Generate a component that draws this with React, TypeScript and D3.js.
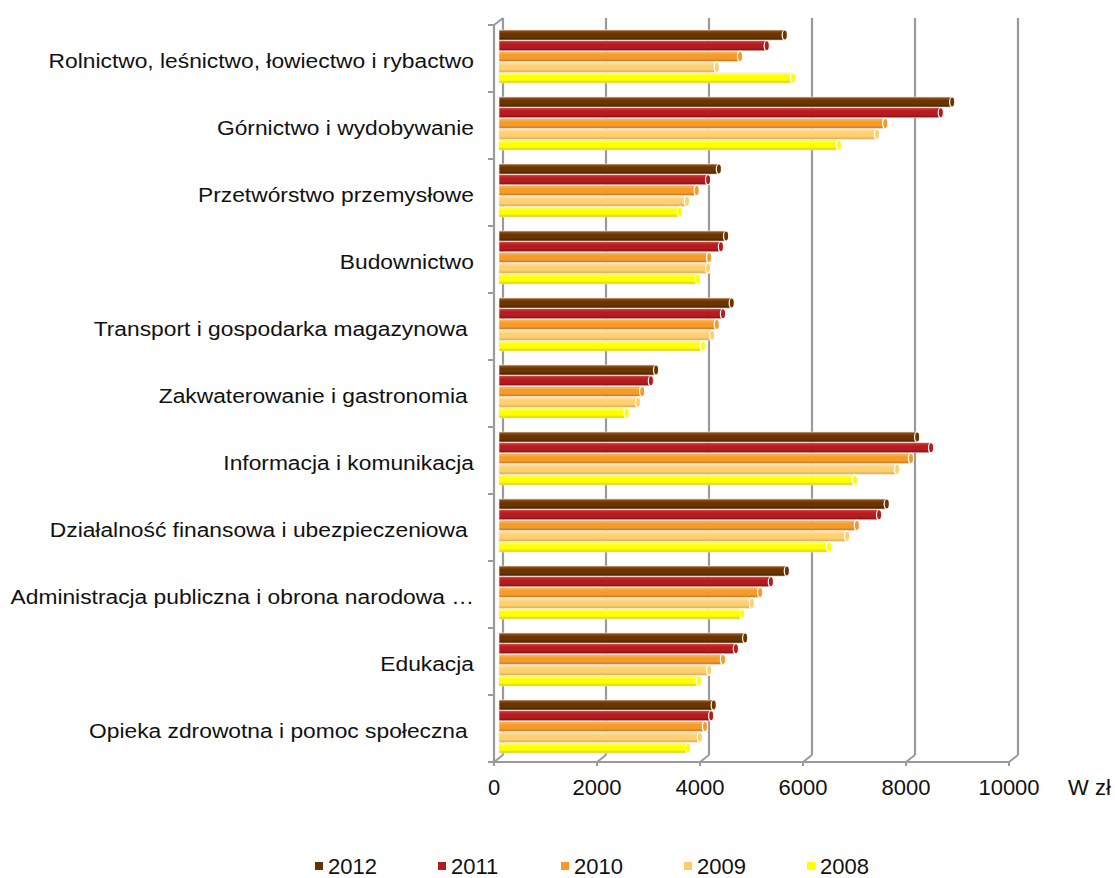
import React from "react";
import * as d3 from "d3";

const categories = [
  "Rolnictwo, leśnictwo, łowiectwo i rybactwo",
  "Górnictwo i wydobywanie",
  "Przetwórstwo przemysłowe",
  "Budownictwo",
  "Transport i gospodarka magazynowa ",
  "Zakwaterowanie i gastronomia ",
  "Informacja i komunikacja",
  "Działalność finansowa i ubezpieczeniowa ",
  "Administracja publiczna i obrona narodowa …",
  "Edukacja",
  "Opieka zdrowotna i pomoc społeczna ",
];

const years = ["2012", "2011", "2010", "2009", "2008"];

const v2012 = [5550, 8800, 4270, 4410, 4520, 3050, 8120, 7530, 5590, 4780, 4170];
const v2011 = [5200, 8580, 4060, 4310, 4350, 2950, 8390, 7380, 5280, 4600, 4120];
const v2010 = [4680, 7500, 3840, 4080, 4230, 2780, 8000, 6950, 5070, 4350, 4000];
const v2009 = [4230, 7340, 3650, 4060, 4140, 2700, 7730, 6760, 4910, 4080, 3900];
const v2008 = [5710, 6600, 3510, 3860, 3960, 2480, 6910, 6410, 4720, 3880, 3670];

const seriesValues = [v2012, v2011, v2010, v2009, v2008];

const xTicks = [0, 2000, 4000, 6000, 8000, 10000];
const unitLabel = "W zł";

const colors = [
  { light: "#9a5a1e", mid: "#6b3500", dark: "#3f1e00", legend: "#663300" },
  { light: "#d8373a", mid: "#b51c20", dark: "#7e0e12", legend: "#b01c20" },
  { light: "#fbbb5a", mid: "#f59b2c", dark: "#c8751a", legend: "#f39a2b" },
  { light: "#ffe4a0", mid: "#ffd070", dark: "#d8a84e", legend: "#ffcc66" },
  { light: "#ffff70", mid: "#ffff00", dark: "#cccc00", legend: "#ffff00" },
];

const W = 1115;
const H = 878;
const TOP = 25;
const BOTTOM = 762;
const DX = 9; // depth offset x
const DY = 7; // depth offset y

export default function App() {
  const xFront = d3.scaleLinear().domain([0, 10000]).range([494, 1009]);
  const xBar = d3.scaleLinear().domain([0, 10000]).range([499, 1014]);
  const xBack = d3.scaleLinear().domain([0, 10000]).range([494 + DX, 1009 + DX]);
  const y = d3.scaleBand<string>().domain(categories).range([TOP, BOTTOM]).paddingInner(0).paddingOuter(0);
  const bandH = y.bandwidth();
  const sub = d3.scaleBand<string>().domain(years).range([5, 58]).paddingInner(0.06);

  const font = "'Liberation Sans', Arial, sans-serif";
  const gridColor = "#9a9a9a";

  return (
    <svg
      width={W}
      height={H}
      style={{ position: "absolute", left: 0, top: 0, background: "#fff" }}
      fontFamily={font}
    >
      <defs>
        {colors.map((c, i) => (
          <linearGradient key={i} id={`g${i}`} x1="0" y1="0" x2="0" y2="1">
            <stop offset="0" stopColor={c.light} />
            <stop offset="0.35" stopColor={c.mid} />
            <stop offset="0.7" stopColor={c.mid} />
            <stop offset="1" stopColor={c.dark} />
          </linearGradient>
        ))}
      </defs>

      {/* back wall gridlines with floor diagonals */}
      {xTicks.map((t) => (
        <g key={`grid${t}`}>
          <line x1={xBack(t)} x2={xBack(t)} y1={TOP - DY} y2={BOTTOM - DY} stroke={gridColor} strokeWidth={2.2} />
          <line x1={xBack(t)} x2={xFront(t)} y1={BOTTOM - DY} y2={BOTTOM} stroke={gridColor} strokeWidth={2} />
          <line x1={xFront(t)} x2={xFront(t)} y1={BOTTOM} y2={BOTTOM + 4} stroke={gridColor} strokeWidth={2} />
        </g>
      ))}

      {/* floor front edge */}
      <line x1={xFront(0)} x2={xFront(10000)} y1={BOTTOM} y2={BOTTOM} stroke={gridColor} strokeWidth={2.2} />

      {/* left wall front edge + top diagonal */}
      <line x1={xFront(0)} x2={xFront(0)} y1={TOP} y2={BOTTOM} stroke={gridColor} strokeWidth={2.2} />
      <line x1={xFront(0)} x2={xBack(0)} y1={TOP} y2={TOP - DY} stroke={gridColor} strokeWidth={2} />

      {/* category ticks */}
      {[...categories.map((c) => y(c) as number), BOTTOM].map((yy, i) => (
        <line key={`ct${i}`} x1={xFront(0) - 6} x2={xFront(0)} y1={yy} y2={yy} stroke={gridColor} strokeWidth={2} />
      ))}

      {/* bars */}
      {categories.map((c, ci) => (
        <g key={`cat${ci}`} transform={`translate(0,${y(c)})`}>
          {years.map((yr, si) => {
            const v = seriesValues[si][ci];
            const by = sub(yr) as number;
            const bh = sub.bandwidth();
            const x0 = xBar(0);
            const x1 = xBar(v);
            return (
              <g key={yr}>
                <rect x={x0} y={by} width={x1 - x0} height={bh} fill={`url(#g${si})`} stroke="#f3e6dc" strokeWidth={0.7} />
                <ellipse cx={x1} cy={by + bh / 2} rx={2.6} ry={bh / 2} fill={colors[si].mid} stroke="#fff" strokeWidth={1.2} />
              </g>
            );
          })}
        </g>
      ))}

      {/* category labels */}
      {categories.map((c) => (
        <g key={`lab${c}`} transform={`translate(474,${(y(c) as number) + bandH / 2 + 2}) scale(1.085,1)`}>
          <text
            x={0}
            y={0}
            textAnchor="end"
            dominantBaseline="central"
            fontSize={21}
            fill="#111"
            style={{ whiteSpace: "pre" }}
          >
            {c}
          </text>
        </g>
      ))}

      {/* x tick labels */}
      {xTicks.map((t) => (
        <text key={`xl${t}`} x={xFront(t)} y={787} textAnchor="middle" dominantBaseline="central" fontSize={22} fill="#111">
          {t}
        </text>
      ))}
      <text x={1068} y={787} dominantBaseline="central" fontSize={22} fill="#111">
        {unitLabel}
      </text>

      {/* legend */}
      {years.map((yr, i) => (
        <g key={`lg${yr}`} transform={`translate(${315 + i * 123},866)`}>
          <rect x={0} y={-4} width={8} height={8} fill={colors[i].legend} />
          <text x={13} y={0} dominantBaseline="central" fontSize={22} fill="#111">
            {yr}
          </text>
        </g>
      ))}
    </svg>
  );
}
